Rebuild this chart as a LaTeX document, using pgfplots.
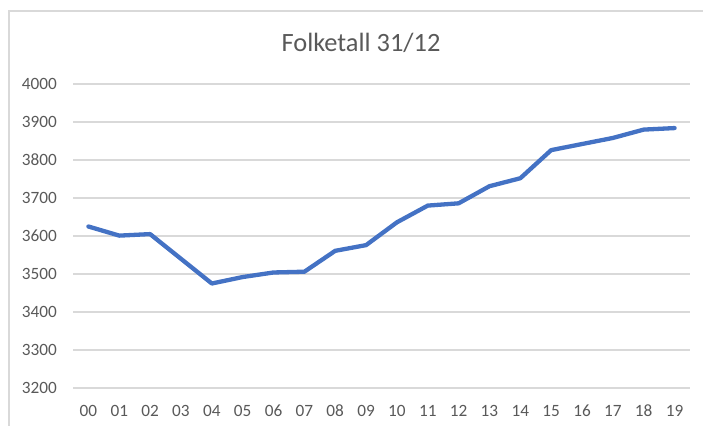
\documentclass[border=0pt]{standalone}
\usepackage{fontspec}
\setmainfont{Carlito}
\usepackage{pgfplots}
\pgfplotsset{compat=1.18}
\definecolor{linecol}{HTML}{4472C4}
\definecolor{gridcol}{HTML}{D9D9D9}
\definecolor{txtcol}{HTML}{595959}
\begin{document}
\begin{tikzpicture}
\path[use as bounding box] (0,0) rectangle (703bp,426bp);
\draw[gridcol, line width=1.2bp] (9bp,0) -- (9bp,415bp) -- (703bp,415bp);
\node[anchor=base, text=txtcol, font=\fontsize{26.5}{30}\selectfont, inner sep=0pt] at (361bp,374bp) {Folketall 31/12};
\begin{axis}[
  at={(73bp,38bp)}, anchor=south west,
  scale only axis, width=617bp, height=304bp,
  xmin=-0.5, xmax=19.5, ymin=3200, ymax=4000,
  ytick={3200,3300,3400,3500,3600,3700,3800,3900,4000},
  xtick={0,1,2,3,4,5,6,7,8,9,10,11,12,13,14,15,16,17,18,19},
  xticklabels={00,01,02,03,04,05,06,07,08,09,10,11,12,13,14,15,16,17,18,19},
  axis line style={draw=none},
  major tick length=0pt,
  ymajorgrids,
  grid style={gridcol, line width=1.2bp},
  tick label style={text=txtcol, font=\fontsize{17.3}{20}\selectfont, inner sep=0pt},
  yticklabel style={anchor=east, xshift=-16bp},
  xticklabel style={anchor=north, yshift=-17bp},
  /pgf/number format/assume math mode=true,
  /pgf/number format/1000 sep={},
  clip=false,
]
\addplot[color=linecol, line width=4.3bp, line join=round, line cap=round, no markers] coordinates {
(0,3625) (1,3601) (2,3605) (3,3540) (4,3475) (5,3492) (6,3504) (7,3506)
(8,3561) (9,3576) (10,3636) (11,3680) (12,3686) (13,3731) (14,3752)
(15,3826) (16,3842) (17,3858) (18,3880) (19,3884)
};
\end{axis}
\end{tikzpicture}
\end{document}
